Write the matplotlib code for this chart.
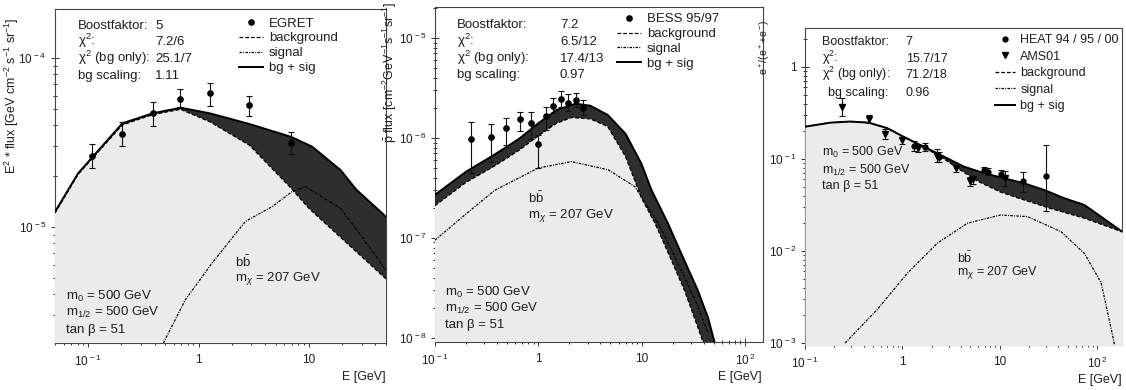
import numpy as np
import matplotlib.pyplot as plt
from matplotlib.ticker import FixedLocator, FixedFormatter, LogLocator, NullFormatter

plt.rcParams['font.family'] = ['Liberation Sans', 'DejaVu Sans']
plt.rcParams['mathtext.fontset'] = 'custom'
plt.rcParams['mathtext.rm'] = 'Liberation Sans'
plt.rcParams['mathtext.it'] = 'Liberation Sans:italic'
plt.rcParams['mathtext.bf'] = 'Liberation Sans:bold'
plt.rcParams['font.size'] = 9

GREY = '#ebebeb'
DARK = '#2e2e2e'
TXT = '#1e1e1e'

# ---------------- gamma rays (EGRET) ----------------
egret_E = [0.109, 0.204, 0.385, 0.68, 1.26, 2.89, 6.86]
egret_F = [2.64e-5, 3.55e-5, 4.74e-5, 5.74e-5, 6.18e-5, 5.3e-5, 3.16e-5]
egret_hi = [3.1e-5, 4.17e-5, 5.5e-5, 6.58e-5, 7.08e-5, 5.98e-5, 3.63e-5]
egret_lo = [2.22e-5, 3.03e-5, 3.96e-5, 5.1e-5, 5.2e-5, 4.54e-5, 2.69e-5]

gam_tot_E = [0.05, 0.081, 0.204, 0.385, 0.688, 1.26, 2.89, 6.86, 10.7, 19.4, 27, 43, 50]
gam_tot_F = [1.23e-5, 2.08e-5, 4.11e-5, 4.71e-5, 5.08e-5, 4.71e-5, 4.07e-5, 3.42e-5,
             2.99e-5, 2.17e-5, 1.66e-5, 1.26e-5, 1.15e-5]
gam_bg_E = [0.05, 0.081, 0.204, 0.385, 0.688, 1.26, 2.89, 7.0, 10.0, 43, 50]
gam_bg_F = [1.21e-5, 2.05e-5, 4.02e-5, 4.63e-5, 4.97e-5, 4.2e-5, 3.05e-5, 1.68e-5,
            1.29e-5, 5.4e-6, 4.93e-6]
gam_sig_E = [0.48, 0.757, 1.32, 2.66, 4.64, 7.05, 9.3, 19.4, 43, 50]
gam_sig_F = [2.06e-6, 3.7e-6, 6.1e-6, 1.08e-5, 1.32e-5, 1.62e-5, 1.73e-5, 1.29e-5, 6.4e-6, 5.5e-6]

# ---------------- antiprotons (BESS) ----------------
bess_E = [0.222, 0.348, 0.49, 0.66, 0.85, 1.0, 1.19, 1.40, 1.66, 1.95, 2.32, 2.73]
bess_F = [9.8e-7, 1.03e-6, 1.25e-6, 1.54e-6, 1.42e-6, 8.65e-7, 1.66e-6, 2.1e-6,
          2.44e-6, 2.26e-6, 2.4e-6, 2.01e-6]
bess_hi = [1.44e-6, 1.37e-6, 1.6e-6, 1.83e-6, 1.8e-6, 1.07e-6, 2.03e-6, 2.5e-6,
           2.93e-6, 2.73e-6, 2.84e-6, 2.4e-6]
bess_lo = [4.5e-7, 5.7e-7, 8.5e-7, 1.17e-6, 9.7e-7, 4.98e-7, 1.2e-6, 1.77e-6,
           2.03e-6, 1.86e-6, 2.03e-6, 1.7e-6]

pb_tot_E = [0.1, 0.2, 0.35, 0.5, 0.66, 1.0, 1.5, 2.3, 3.2, 4.7, 7.0, 10, 12.5, 18, 25, 35, 44, 51]
pb_tot_F = [2.7e-7, 4.6e-7, 6.5e-7, 8.2e-7, 9.9e-7, 1.4e-6, 1.9e-6, 2.2e-6, 2.1e-6, 1.7e-6,
            1.1e-6, 5.5e-7, 3.0e-7, 1.4e-7, 6.5e-8, 3.0e-8, 1.6e-8, 9e-9]
pb_bg_E = [0.1, 0.2, 0.35, 0.5, 0.66, 1.0, 1.5, 2.1, 3.2, 4.7, 7.0, 10, 13.5, 18.8, 26, 34, 39.5]
pb_bg_F = [2.1e-7, 3.6e-7, 5.0e-7, 6.3e-7, 7.6e-7, 1.05e-6, 1.4e-6, 1.6e-6, 1.55e-6, 1.3e-6,
           6.5e-7, 2.5e-7, 1.4e-7, 6.5e-8, 3.0e-8, 1.4e-8, 9e-9]
pb_sig_E = [0.1, 0.2, 0.38, 1.0, 2.1, 4.77, 8.6, 14.5, 21, 33, 44]
pb_sig_F = [9.5e-8, 1.74e-7, 3.0e-7, 5.0e-7, 5.8e-7, 4.8e-7, 3.26e-7, 1.4e-7, 6.5e-8, 2.4e-8, 1.12e-8]

# ---------------- positron fraction (HEAT, AMS01) ----------------
heat_E = [1.31, 1.69, 2.4, 6.9, 7.6, 10.4, 17.5, 29.8]
heat_R = [0.138, 0.136, 0.106, 0.076, 0.073, 0.069, 0.057, 0.065]
heat_hi = [0.155, 0.15, 0.12, 0.082, 0.079, 0.075, 0.073, 0.142]
heat_lo = [0.123, 0.122, 0.093, 0.07, 0.067, 0.063, 0.044, 0.027]
ams_E = [0.239, 0.45, 0.668, 0.99, 1.45, 2.28, 3.52, 4.9, 5.3, 11.3]
ams_R = [0.365, 0.272, 0.187, 0.161, 0.13, 0.108, 0.079, 0.057, 0.06, 0.062]
ams_hi = [0.457, 0.30, 0.21, 0.175, 0.142, 0.127, 0.086, 0.064, 0.066, 0.074]
ams_lo = [0.293, 0.248, 0.164, 0.146, 0.118, 0.093, 0.072, 0.051, 0.054, 0.051]

pf_tot_E = [0.1, 0.181, 0.29, 0.45, 0.70, 1.02, 1.66, 2.67, 4.28, 6.9, 11.1, 17.7, 28.6, 46, 74, 184]
pf_tot_R = [0.224, 0.248, 0.255, 0.248, 0.216, 0.175, 0.136, 0.106, 0.0825, 0.070, 0.0617,
            0.0544, 0.046, 0.0374, 0.0316, 0.016]
pf_bg_E = [0.1, 0.181, 0.29, 0.45, 0.70, 1.02, 1.66, 2.5, 4.0, 6.0, 10, 15, 33, 74, 184]
pf_bg_R = [0.224, 0.248, 0.255, 0.248, 0.216, 0.175, 0.133, 0.105, 0.075, 0.057, 0.044,
           0.038, 0.029, 0.0227, 0.016]
pf_sig_E = [0.258, 0.548, 1.12, 2.28, 4.64, 10.2, 19.3, 42.6, 74, 110, 145, 152]
pf_sig_R = [0.001, 0.00229, 0.0057, 0.0121, 0.02, 0.0246, 0.0236, 0.0162, 0.0094, 0.0045,
            0.00117, 0.0009]

# axis ticks
p1_xticks, p1_xlabels = [0.1, 1, 10], [r'$10^{\,-1}$', '1', '10']
p1_yticks, p1_ylabels = [1e-5, 1e-4], [r'$10^{\,-5}$', r'$10^{\,-4}$']
p2_xticks, p2_xlabels = [0.1, 1, 10, 100], [r'$10^{\,-1}$', '1', '10', r'$10^{\,2}$']
p2_yticks, p2_ylabels = [1e-8, 1e-7, 1e-6, 1e-5], [r'$10^{\,-8}$', r'$10^{\,-7}$', r'$10^{\,-6}$', r'$10^{\,-5}$']
p3_xticks, p3_xlabels = [0.1, 1, 10, 100], [r'$10^{\,-1}$', '1', '10', r'$10^{\,2}$']
p3_yticks, p3_ylabels = [1e-3, 1e-2, 1e-1, 1], [r'$10^{\,-3}$', r'$10^{\,-2}$', r'$10^{\,-1}$', '1']


def style_axis(ax, xlim, ylim, xt, xl, yt, yl):
    ax.set_xscale('log')
    ax.set_yscale('log')
    ax.set_xlim(xlim)
    ax.set_ylim(ylim)
    ax.xaxis.set_major_locator(FixedLocator(xt))
    ax.xaxis.set_major_formatter(FixedFormatter(xl))
    ax.yaxis.set_major_locator(FixedLocator(yt))
    ax.yaxis.set_major_formatter(FixedFormatter(yl))
    for a in (ax.xaxis, ax.yaxis):
        a.set_minor_locator(LogLocator(subs=np.arange(2, 10)))
        a.set_minor_formatter(NullFormatter())
    ax.tick_params(which='both', direction='inout', color='#333333', width=0.7,
                   labelsize=8.5, labelcolor=TXT)
    ax.tick_params(which='major', length=6)
    ax.tick_params(which='minor', length=3.5)
    ax.tick_params(axis='x', pad=5)
    ax.tick_params(axis='y', pad=3)
    for s in ax.spines.values():
        s.set_linewidth(0.8)
        s.set_color('#444444')


def draw_model(ax, tE, tF, bE, bF, sE, sF, ybot):
    ax.fill_between(bE, ybot, bF, color=GREY, lw=0, zorder=3)
    ax.fill(np.r_[tE, bE[::-1]], np.r_[tF, bF[::-1]], color=DARK, lw=0, zorder=3)
    hb, = ax.plot(bE, bF, color='k', lw=0.9, ls=(0, (3, 1.6)), zorder=4, label='background')
    hs, = ax.plot(sE, sF, color='k', lw=0.9, ls=(0, (2, 1, 0.8, 1)), zorder=4, label='signal')
    ht, = ax.plot(tE, tF, color='k', lw=1.4, zorder=4, label='bg + sig')
    return [hb, hs, ht]


def draw_data(ax, E, F, lo, hi, marker, label, ms=3.8):
    E, F, lo, hi = map(np.asarray, (E, F, lo, hi))
    ax.errorbar(E, F, yerr=[F - lo, hi - F], fmt='none', ecolor='#111111', elinewidth=0.8,
                capsize=2.5, capthick=0.8, zorder=5)
    h, = ax.plot(E, F, marker, color='k', ms=ms, ls='none', zorder=6, label=label)
    return h


def info_block(ax, x_lab, x_val, ys, labels, values, fs, x_lab_last=None):
    for i, (lab, val, y) in enumerate(zip(labels, values, ys)):
        xl = x_lab_last if (x_lab_last is not None and i == len(labels) - 1) else x_lab
        ax.text(xl, y, lab, transform=ax.transAxes, va='baseline', ha='left', color=TXT, fontsize=fs, zorder=7)
        ax.text(x_val, y, val, transform=ax.transAxes, va='baseline', ha='left', color=TXT, fontsize=fs, zorder=7)


def susy_text(ax, x, ys, xb, yb, fs):
    for y, s in zip(ys, ['m$_0$ = 500 GeV', 'm$_{1/2}$ = 500 GeV', 'tan \u03b2 = 51']):
        ax.text(x, y, s, transform=ax.transAxes, va='center', ha='left', color=TXT, fontsize=fs, zorder=7)
    ax.text(xb, yb[0], r'b$\bar{\mathrm{b}}$', transform=ax.transAxes, va='center', ha='left',
            color=TXT, fontsize=fs, zorder=7)
    ax.text(xb, yb[1], 'm$_\\chi$ = 207 GeV', transform=ax.transAxes, va='center', ha='left',
            color=TXT, fontsize=fs, zorder=7)


info_labels = ['Boostfaktor:', '\u03c7$^2$:', '\u03c7$^2$ (bg only):', 'bg scaling:']

fig = plt.figure(figsize=(11.26, 3.9), dpi=100)

# ---------- panel 1 ----------
ax1 = fig.add_axes([55 / 1126, 47 / 390, 331 / 1126, 334 / 390])
style_axis(ax1, (0.05, 50), (2.06e-6, 1.95e-4), p1_xticks, p1_xlabels, p1_yticks, p1_ylabels)
mh = draw_model(ax1, gam_tot_E, gam_tot_F, gam_bg_E, gam_bg_F, gam_sig_E, gam_sig_F, 1e-7)
dh = draw_data(ax1, egret_E, egret_F, egret_lo, egret_hi, 'o', 'EGRET')
ax1.legend(handles=[dh] + mh, loc='upper left', bbox_to_anchor=(0.556, 0.975), frameon=False,
           borderpad=0, borderaxespad=0, handlelength=1.8, handletextpad=0.45,
           labelspacing=0.2, fontsize=9.5, labelcolor=TXT)
info_block(ax1, 0.069, 0.302, [0.941, 0.891, 0.840, 0.791], info_labels,
           ['5', '7.2/6', '25.1/7', '1.11'], 9.5)
susy_text(ax1, 0.033, [0.138, 0.090, 0.039], 0.544, [0.243, 0.192], 9.5)

# ---------- panel 2 ----------
ax2 = fig.add_axes([435 / 1126, 48 / 390, 328 / 1126, 335 / 390])
style_axis(ax2, (0.1, 150), (9.1e-9, 2.04e-5), p2_xticks, p2_xlabels, p2_yticks, p2_ylabels)
mh = draw_model(ax2, pb_tot_E, pb_tot_F, pb_bg_E, pb_bg_F, pb_sig_E, pb_sig_F, 1e-10)
dh = draw_data(ax2, bess_E, bess_F, bess_lo, bess_hi, 'o', 'BESS 95/97')
ax2.legend(handles=[dh] + mh, loc='upper left', bbox_to_anchor=(0.555, 0.982), frameon=False,
           borderpad=0, borderaxespad=0, handlelength=1.8, handletextpad=0.45,
           labelspacing=0.2, fontsize=9.5, labelcolor=TXT)
info_block(ax2, 0.067, 0.381, [0.938, 0.887, 0.837, 0.789], info_labels,
           ['7.2', '6.5/12', '17.4/13', '0.97'], 9.5)
susy_text(ax2, 0.030, [0.149, 0.101, 0.051], 0.284, [0.43, 0.379], 9.5)

# ---------- panel 3 ----------
ax3 = fig.add_axes([805 / 1126, 45 / 390, 317 / 1126, 317 / 390])
style_axis(ax3, (0.1, 180), (9.5e-4, 2.65), p3_xticks, p3_xlabels, p3_yticks, p3_ylabels)
mh = draw_model(ax3, pf_tot_E, pf_tot_R, pf_bg_E, pf_bg_R, pf_sig_E, pf_sig_R, 1e-4)
dh1 = draw_data(ax3, heat_E, heat_R, heat_lo, heat_hi, 'o', 'HEAT 94 / 95 / 00', ms=3.5)
dh2 = draw_data(ax3, ams_E, ams_R, ams_lo, ams_hi, 'v', 'AMS01', ms=3.8)
ax3.legend(handles=[dh1, dh2] + mh, loc='upper right', bbox_to_anchor=(0.99, 0.98), frameon=False,
           borderpad=0, borderaxespad=0, handlelength=1.6, handletextpad=0.45,
           labelspacing=0.36, fontsize=9, labelcolor=TXT)
info_block(ax3, 0.054, 0.318, [0.945, 0.892, 0.841, 0.787], info_labels,
           ['7', '15.7/17', '71.2/18', '0.96'], 9, x_lab_last=0.073)
susy_text(ax3, 0.054, [0.606, 0.552, 0.502], 0.479, [0.274, 0.230], 9)

# axis titles
fig.text(12 / 1126, 1 - 96 / 390, 'E$^2$ * flux [GeV cm$^{-2}$ s$^{-1}$ sr$^{-1}$]', rotation=90,
         ha='center', va='center', fontsize=9, color=TXT)
fig.text(390 / 1126, 1 - 72 / 390, r'$\bar{\mathrm{p}}$ flux [cm$^{-2}$GeV$^{-1}$s$^{-1}$sr$^{-1}$]',
         rotation=90, ha='center', va='center', fontsize=9, color=TXT)
fig.text(765 / 1126, 1 - 47 / 390, 'e$^+$/(e$^+$+e$^-$)', rotation=90,
         ha='center', va='center', fontsize=7.5, color=TXT)
for xr, yc in [(386, 377), (762, 377), (1122, 380)]:
    fig.text(xr / 1126, 1 - yc / 390, 'E [GeV]', ha='right', va='center', fontsize=9, color=TXT)

fig.savefig('out.png', dpi=100)
